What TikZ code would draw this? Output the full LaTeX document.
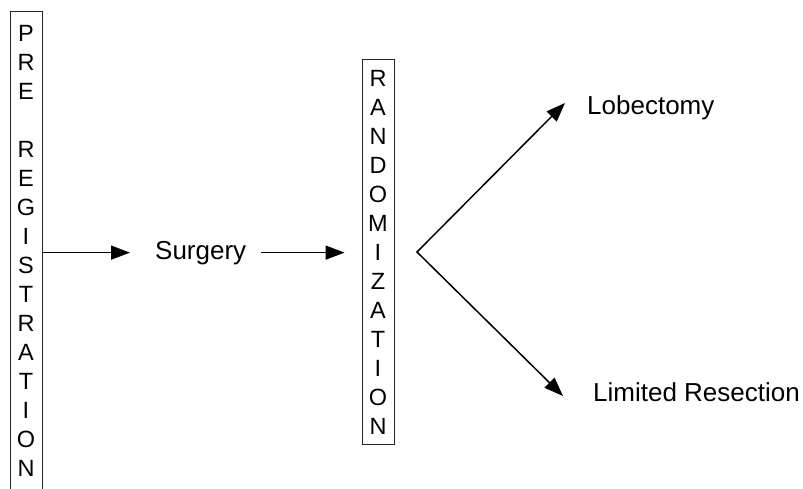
\documentclass[tikz,border=0pt]{standalone}
\usepackage{fontspec}
\setmainfont{Liberation Sans}
\usetikzlibrary{arrows.meta}
\begin{document}
\begin{tikzpicture}[x=1pt,y=-1pt,
  stackbox/.style={draw=black!85, line width=0.9pt, minimum width=32pt,
    inner xsep=0pt, align=center, font=\fontsize{23.5}{29}\selectfont},
  armtext/.style={font=\fontsize{26}{30}\selectfont, inner sep=0pt, anchor=base west},
  head/.style={Triangle[length=19pt,width=14pt]},
  flow/.style={line width=1.5pt, -{Triangle[length=19pt,width=14pt]}}]
\useasboundingbox (0,0) rectangle (803,489);
\clip (0,0) rectangle (803,489);

% vertical letter boxes
\node[stackbox, anchor=north, inner ysep=14pt] (pre) at (26,10.7)
  {P\\R\\E\\\mbox{}\\R\\E\\G\\I\\S\\T\\R\\A\\T\\I\\O\\N\\[-10pt]\mbox{}};
\node[stackbox, inner ysep=10pt] (rand) at (378,252)
  {R\\A\\N\\D\\O\\M\\I\\Z\\A\\T\\I\\O\\N};

% labels
\node[armtext] (surg) at (155,259) {Surgery};
\node[armtext] (lobe) at (587,115) {Lobectomy};
\node[armtext] (limres) at (593,401) {Limited Resection};

% connectors
\draw[flow, shorten >=25pt] (pre.east |- surg.west) -- (surg.west);
\draw[flow, shorten <=15pt, shorten >=17pt] (surg.east) -- (rand.west |- surg.east);

\coordinate (fork) at (417,252);
\coordinate (uptip) at (565,103);
\coordinate (downtip) at (563,396);
\draw[line width=1.5pt, {Triangle[length=19pt,width=14pt]}-{Triangle[length=19pt,width=14pt]}]
  (uptip) -- (fork) -- (downtip);
\end{tikzpicture}
\end{document}
